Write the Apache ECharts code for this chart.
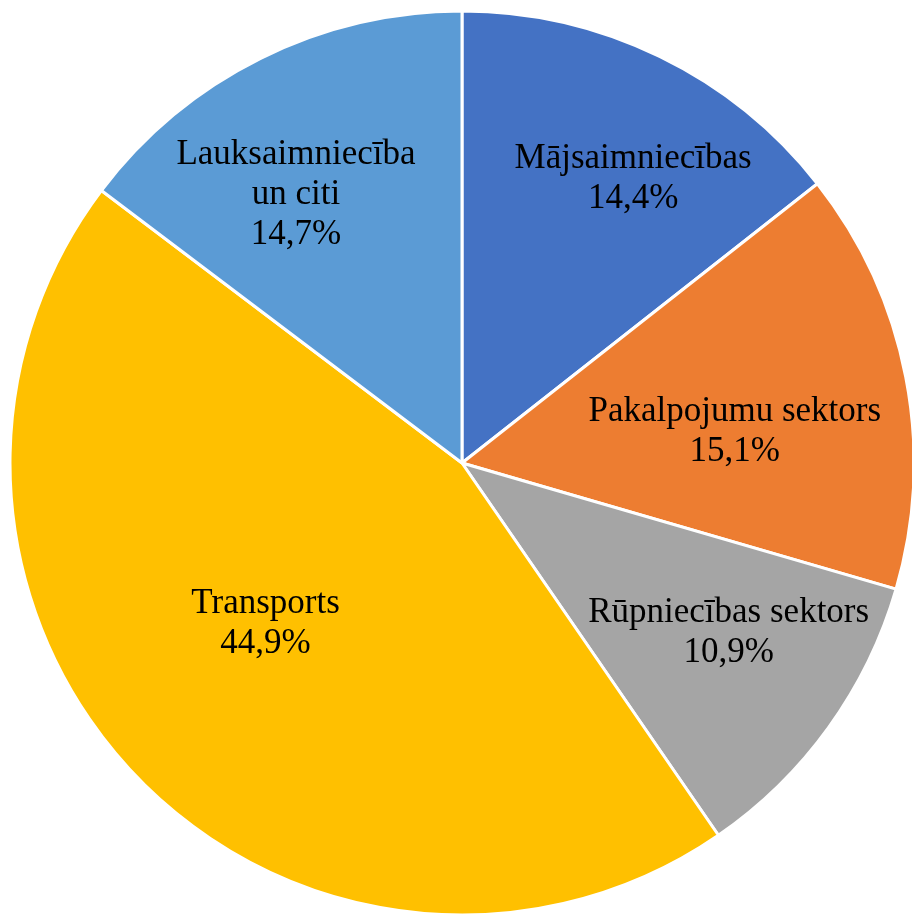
<!DOCTYPE html>
<html><head><meta charset="utf-8">
<script src="https://cdn.jsdelivr.net/npm/echarts@6/dist/echarts.min.js"></script>
<style>html,body{margin:0;padding:0;background:#fff}#c{width:912px;height:919px}</style>
</head><body><div id="c"></div>
<script>
const categories = ['Mājsaimniecības', 'Pakalpojumu sektors', 'Rūpniecības sektors', 'Transports', 'Lauksaimniecība\nun citi'];
const values = [14.4, 15.1, 10.9, 44.9, 14.7];
const colors = ['#4472C4', '#ED7D31', '#A5A5A5', '#FFC000', '#5B9BD5'];
const labelOffsets = [[71, -78], [48, 12], [81, 36], [-31, 2], [-64, -63]];

const chart = echarts.init(document.getElementById('c'));
chart.setOption({
  animation: false,
  series: [{
    type: 'pie',
    center: [462, 463],
    radius: [0, 452],
    startAngle: 90,
    clockwise: true,
    data: categories.map((n, i) => ({ name: n, value: values[i], itemStyle: { color: colors[i] } })),
    itemStyle: { borderColor: '#fff', borderWidth: 3 },
    label: {
      show: true,
      position: 'inside',
      formatter: p => p.name + '\n' + p.value.toFixed(1).replace('.', ',') + '%',
      fontFamily: 'Liberation Serif',
      fontSize: 35,
      lineHeight: 40,
      color: '#000',
      align: 'center'
    },
    labelLayout: p => ({ dx: labelOffsets[p.dataIndex][0], dy: labelOffsets[p.dataIndex][1] }),
    emphasis: { disabled: true }
  }]
});
</script></body></html>
